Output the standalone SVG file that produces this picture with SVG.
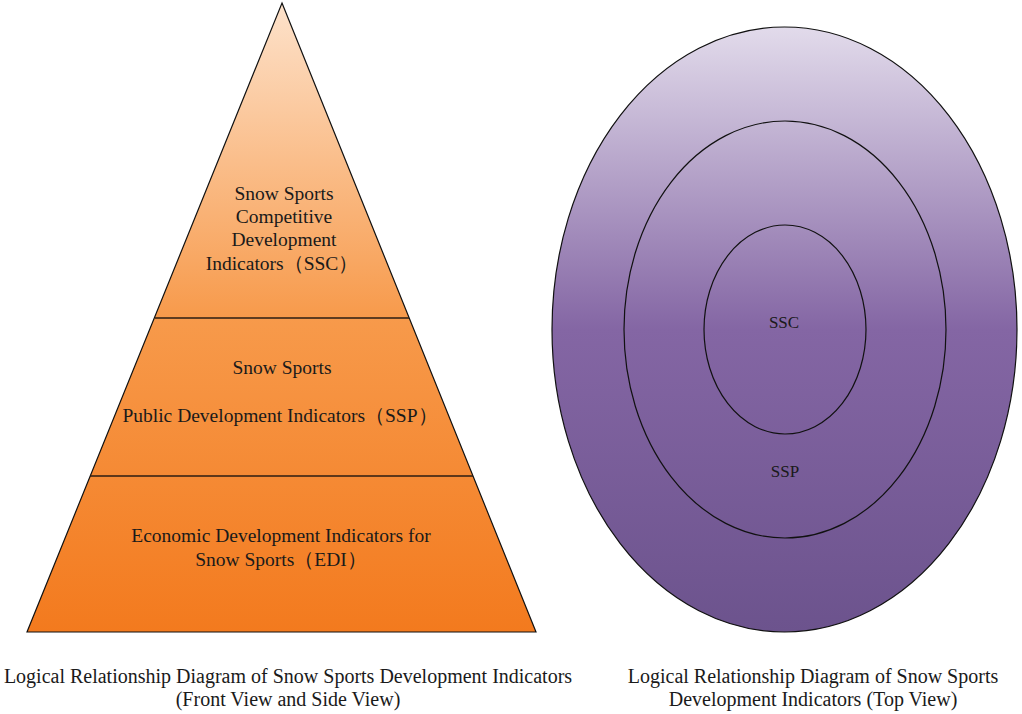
<svg xmlns="http://www.w3.org/2000/svg" width="1022" height="714" viewBox="0 0 1022 714">
<defs>
<linearGradient id="gOrange" x1="0" y1="3" x2="0" y2="632" gradientUnits="userSpaceOnUse">
<stop offset="0" stop-color="#fde2cb"/>
<stop offset="0.5" stop-color="#f79a4b"/>
<stop offset="1" stop-color="#f37a1e"/>
</linearGradient>
<linearGradient id="gPurple" x1="0" y1="27" x2="0" y2="632" gradientUnits="userSpaceOnUse">
<stop offset="0" stop-color="#e2dbeb"/>
<stop offset="0.5" stop-color="#8466a4"/>
<stop offset="1" stop-color="#6c538d"/>
</linearGradient>
</defs>
<style>
text{font-family:"Liberation Serif","Times New Roman",serif;fill:#1a1a1a;text-anchor:middle}
.lbl{font-size:19.5px}
.cap{font-size:20px}
.small{font-size:17px}
.sep{stroke:#2b1d12;stroke-width:1.6}
.ring{fill:none;stroke:#111;stroke-width:1.2}
</style>
<rect width="1022" height="714" fill="#ffffff"/>
<g id="pyramid">
<polygon points="282,3 536,632 27,632" fill="url(#gOrange)" stroke="#111" stroke-width="1.2"/>
<line class="sep" x1="155" y1="318" x2="409" y2="318"/>
<line class="sep" x1="90" y1="476" x2="473" y2="476"/>
</g>
<g id="node-ssc">
<text class="lbl" x="284" y="200">Snow Sports</text>
<text class="lbl" x="284" y="223">Competitive</text>
<text class="lbl" x="284" y="246">Development</text>
<text class="lbl" x="282" y="270">Indicators（SSC）</text>
</g>
<g id="node-ssp">
<text class="lbl" x="282" y="374">Snow Sports</text>
<text class="lbl" x="280" y="422">Public Development Indicators（SSP）</text>
</g>
<g id="node-edi">
<text class="lbl" x="281" y="542">Economic Development Indicators for</text>
<text class="lbl" x="281" y="566">Snow Sports（EDI）</text>
</g>
<g id="top-view">
<ellipse cx="784.5" cy="329.5" rx="232.5" ry="302.5" fill="url(#gPurple)" stroke="#111" stroke-width="1.2"/>
<ellipse class="ring" cx="785" cy="329.5" rx="161" ry="208.5"/>
<ellipse class="ring" cx="785" cy="329.5" rx="81" ry="104.5"/>
</g>
<g id="ring-ssc"><text class="small" x="784" y="328">SSC</text></g>
<g id="ring-ssp"><text class="small" x="785" y="477">SSP</text></g>
<g id="connectors"></g>
<g id="captions">
<text class="cap" x="288" y="683">Logical Relationship Diagram of Snow Sports Development Indicators</text>
<text class="cap" x="288" y="706">(Front View and Side View)</text>
<text class="cap" x="813" y="683">Logical Relationship Diagram of Snow Sports</text>
<text class="cap" x="813" y="706">Development Indicators (Top View)</text>
</g>
</svg>
